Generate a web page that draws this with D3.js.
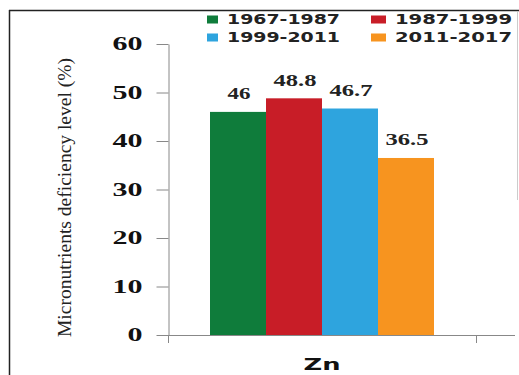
<!DOCTYPE html>
<html>
<head>
<meta charset="utf-8">
<script src="https://cdn.jsdelivr.net/npm/d3@7"></script>
<style>
  body { margin: 0; background: #fff; }
  svg { display: block; }
</style>
</head>
<body>
<div id="chart"></div>
<script>
const width = 519;
const height = 375;

const categories = ["Zn"];
const periods = ["1967-1987", "1987-1999", "1999-2011", "2011-2017"];
const values = [46, 48.8, 46.7, 36.5];
const colors = ["#0f7c3b", "#c81d27", "#2ea4de", "#f7941f"];
const yTicks = [0, 10, 20, 30, 40, 50, 60];
const yTitle = "Micronutrients deficiency level (%)";

const svg = d3.select("#chart").append("svg")
    .attr("width", width)
    .attr("height", height);

// frame
svg.append("line").attr("x1", 9).attr("x2", width).attr("y1", 10.5).attr("y2", 10.5)
    .attr("stroke", "#222").attr("stroke-width", 1.5);
svg.append("line").attr("x1", 9.5).attr("x2", 9.5).attr("y1", 10).attr("y2", height)
    .attr("stroke", "#222").attr("stroke-width", 1.5);
svg.append("line").attr("x1", 517.5).attr("x2", 517.5).attr("y1", 12).attr("y2", 200)
    .attr("stroke", "#ccc").attr("stroke-width", 1);

const y = d3.scaleLinear().domain([0, 60]).range([335, 44]);
const x0 = d3.scaleBand().domain(categories).range([168, 476]);
const x1 = d3.scaleBand().domain(periods).range([0, x0.bandwidth()]).paddingOuter(0.75);
const color = d3.scaleOrdinal().domain(periods).range(colors);

// y axis
const yAxis = svg.append("g")
    .attr("transform", "translate(168.5,0)")
    .call(d3.axisLeft(y).tickValues(yTicks).tickSize(12).tickSizeOuter(0).tickPadding(14));
yAxis.select(".domain").attr("stroke", "#888");
yAxis.selectAll(".tick line").attr("stroke", "#888");
yAxis.selectAll(".tick text")
    .attr("fill", "#111")
    .attr("font-family", "'Liberation Serif', 'Times New Roman', serif")
    .attr("font-weight", "bold")
    .attr("font-size", 18.5)
    .attr("textLength", d => String(d).length * 15)
    .attr("lengthAdjust", "spacingAndGlyphs");

// x axis line and edge ticks
svg.append("line").attr("x1", 168).attr("x2", 515).attr("y1", y(0) + 0.5).attr("y2", y(0) + 0.5)
    .attr("stroke", "#888");
x0.range().forEach(xv => {
    svg.append("line").attr("x1", xv + 0.5).attr("x2", xv + 0.5)
        .attr("y1", y(0)).attr("y2", y(0) + 8).attr("stroke", "#888");
});

const xAxis = svg.append("g")
    .attr("transform", `translate(0,${y(0)})`)
    .call(d3.axisBottom(x0).tickSize(0).tickPadding(24));
xAxis.select(".domain").remove();
xAxis.selectAll(".tick text")
    .attr("fill", "#111")
    .attr("font-family", "'DejaVu Sans', Verdana, sans-serif")
    .attr("font-weight", "bold")
    .attr("font-size", 16)
    .attr("textLength", 37)
    .attr("lengthAdjust", "spacingAndGlyphs");

// bars
const group = svg.append("g")
    .attr("transform", `translate(${x0("Zn")},0)`);

group.selectAll("rect")
    .data(periods)
    .join("rect")
    .attr("x", d => x1(d))
    .attr("width", x1.bandwidth())
    .attr("y", (d, i) => y(values[i]))
    .attr("height", (d, i) => y(0) - y(values[i]))
    .attr("fill", d => color(d));

group.selectAll("text.val")
    .data(periods)
    .join("text")
    .attr("class", "val")
    .attr("x", d => x1(d) + x1.bandwidth() / 2 + 1)
    .attr("y", (d, i) => y(values[i]) - 12.5)
    .attr("text-anchor", "middle")
    .attr("fill", "#222")
    .attr("font-family", "'Liberation Serif', 'Times New Roman', serif")
    .attr("font-weight", "bold")
    .attr("font-size", 16.5)
    .attr("textLength", (d, i) => {
        const s = String(values[i]);
        const dots = (s.match(/\./g) || []).length;
        return (s.length - dots) * 11.5 + dots * 8.5;
    })
    .attr("lengthAdjust", "spacingAndGlyphs")
    .text((d, i) => values[i]);

// y title
svg.append("text")
    .attr("transform", "translate(71,197.5) rotate(-90)")
    .attr("text-anchor", "middle")
    .attr("fill", "#222")
    .attr("font-family", "'Liberation Serif', 'Times New Roman', serif")
    .attr("font-size", 19)
    .attr("textLength", 279)
    .attr("lengthAdjust", "spacingAndGlyphs")
    .text(yTitle);

// legend
const legendPos = [[207, 24], [371, 24], [207, 42], [371, 42]];
const legend = svg.append("g");
periods.forEach((p, i) => {
    const [lx, ly] = legendPos[i];
    legend.append("rect")
        .attr("x", lx).attr("y", ly - 8.5)
        .attr("width", i % 2 ? 15 : 11).attr("height", 8)
        .attr("fill", color(p));
    legend.append("text")
        .attr("x", lx + (i % 2 ? 24 : 20))
        .attr("y", ly)
        .attr("fill", "#222")
        .attr("font-family", "'DejaVu Sans', Verdana, sans-serif")
        .attr("font-weight", "bold")
        .attr("font-size", 13.5)
        .attr("textLength", i % 2 ? 117 : 113)
        .attr("lengthAdjust", "spacingAndGlyphs")
        .text(p);
});
</script>
</body>
</html>
